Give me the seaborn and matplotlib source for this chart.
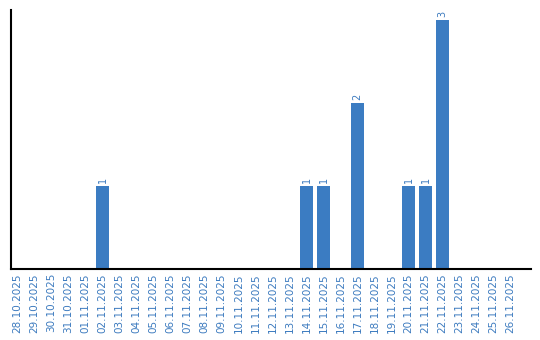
import matplotlib
matplotlib.use("Agg")
import matplotlib.pyplot as plt
import seaborn as sns
import pandas as pd

dates = ["28.10.2025", "29.10.2025", "30.10.2025", "31.10.2025", "01.11.2025",
         "02.11.2025", "03.11.2025", "04.11.2025", "05.11.2025", "06.11.2025",
         "07.11.2025", "08.11.2025", "09.11.2025", "10.11.2025", "11.11.2025",
         "12.11.2025", "13.11.2025", "14.11.2025", "15.11.2025", "16.11.2025",
         "17.11.2025", "18.11.2025", "19.11.2025", "20.11.2025", "21.11.2025",
         "22.11.2025", "23.11.2025", "24.11.2025", "25.11.2025", "26.11.2025"]
counts = [0, 0, 0, 0, 0,
          1, 0, 0, 0, 0,
          0, 0, 0, 0, 0,
          0, 0, 1, 1, 0,
          2, 0, 0, 1, 1,
          3, 0, 0, 0, 0]

BAR = "#3b7cc2"
TXT = "#3d7bbf"

sns.set_theme(style="white")
plt.rcParams['font.family'] = ['DejaVu Sans']

df = pd.DataFrame({"date": dates, "count": counts})
fig = plt.figure(figsize=(5.4, 3.4), dpi=100)
ax = fig.add_axes([0.0204, 0.209, 0.9630, 0.7616])
sns.barplot(data=df, x="date", y="count", color=BAR, saturation=1, width=0.78,
            linewidth=0, ax=ax)

for i, v in enumerate(counts):
    if v > 0:
        ax.text(i, v + 0.03, str(v), rotation=90, ha="center", va="bottom",
                fontsize=7, color=TXT)

ax.set_xlim(-0.38, 30.2)
ax.set_ylim(0, 3.12)
ax.set_xlabel("")
ax.set_ylabel("")
ax.set_yticks([])
ax.tick_params(axis="x", length=0, pad=3, labelsize=7.5, labelcolor=TXT)
plt.setp(ax.get_xticklabels(), rotation=90)
for s in ["top", "right"]:
    ax.spines[s].set_visible(False)
for s in ["left", "bottom"]:
    ax.spines[s].set_color("black")
    ax.spines[s].set_linewidth(1.5)

fig.savefig("out.png", dpi=100)
